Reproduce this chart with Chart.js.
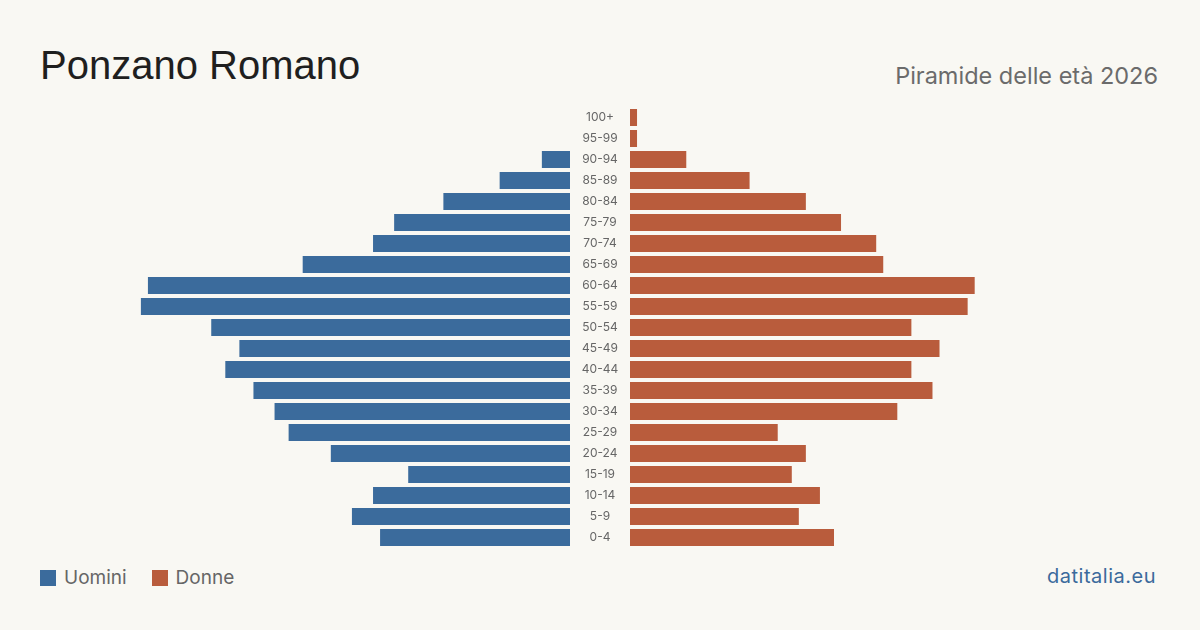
<!DOCTYPE html>
<html lang="it">
<head>
<meta charset="utf-8">
<title>Ponzano Romano – Piramide delle età 2026</title>
<script src="https://cdn.jsdelivr.net/npm/chart.js@4/dist/chart.umd.min.js"></script>
<style>
  html, body { margin: 0; padding: 0; }
  body {
    width: 1200px; height: 630px; overflow: hidden; position: relative;
    background: #f9f8f3;
    font-family: Inter, "Liberation Sans", Arial, sans-serif;
  }
  .title {
    position: absolute; left: 40px; top: 45px;
    font-family: "Liberation Sans", Arial, sans-serif;
    font-size: 40px; color: #1f1f1f; line-height: 1;
  }
  .subtitle {
    position: absolute; right: 42px; top: 64px;
    font-size: 23.5px; color: #6b6b6b; line-height: 1;
  }
  .box { position: absolute; top: 107px; height: 441px; }
  #boxMen   { left: 60px;  width: 570px; }
  #boxWomen { left: 630px; width: 510px; }
  .legend {
    position: absolute; left: 40px; top: 566px;
    display: flex; align-items: center; font-size: 19px; color: #666;
  }
  .legend span.sw { width: 16px; height: 16px; display: inline-block; margin-right: 8px; }
  .legend .item { display: flex; align-items: center; margin-right: 25px; }
  .source {
    position: absolute; right: 44px; top: 564px;
    font-size: 20px; letter-spacing: 0.5px; color: #3b6a9c;
  }
</style>
</head>
<body>
  <div class="title">Ponzano Romano</div>
  <div class="subtitle">Piramide delle età 2026</div>

  <div class="box" id="boxMen"><canvas id="chartMen"></canvas></div>
  <div class="box" id="boxWomen"><canvas id="chartWomen"></canvas></div>

  <div class="legend">
    <div class="item"><span class="sw" style="background:#3b6b9c"></span>Uomini</div>
    <div class="item"><span class="sw" style="background:#b95c3c"></span>Donne</div>
  </div>
  <div class="source">datitalia.eu</div>

<script>
// ── Data ─────────────────────────────────────────────────────────────────────
const ageGroups = ['100+', '95-99', '90-94', '85-89', '80-84', '75-79', '70-74',
                   '65-69', '60-64', '55-59', '50-54', '45-49', '40-44', '35-39',
                   '30-34', '25-29', '20-24', '15-19', '10-14', '5-9', '0-4'];
const menValues   = [0, 0, 4, 10, 18, 25, 28, 38, 60, 61, 51, 47, 49, 45, 42, 40, 34, 23, 28, 31, 27];
const womenValues = [1, 1, 8, 17, 25, 30, 35, 36, 49, 48, 40, 44, 40, 43, 38, 21, 25, 23, 27, 24, 29];

const MEN_COLOR   = '#3b6b9c';
const WOMEN_COLOR = '#b95c3c';
const AXIS_MAX    = 72.5;
const LABEL_GAP   = 60;   // centre column holding the age labels

// Age labels drawn in the gap right of the men's plot, at the y-scale positions
const ageLabelPlugin = {
    id: 'ageLabels',
    afterDraw(chart) {
        const { ctx, chartArea, scales } = chart;
        ctx.save();
        ctx.fillStyle = '#666';
        ctx.font = '12px Inter, "Liberation Sans", sans-serif';
        ctx.textAlign = 'center';
        ctx.textBaseline = 'middle';
        chart.data.labels.forEach((lab, i) => {
            ctx.fillText(lab, chartArea.right + LABEL_GAP / 2, scales.y.getPixelForValue(i));
        });
        ctx.restore();
    },
};

// ── One side of the pyramid ──────────────────────────────────────────────────
function makeSide(canvasId, values, color, isLeft) {
    return new Chart(document.getElementById(canvasId), {
        type: 'bar',
        data: {
            labels: ageGroups,
            datasets: [{
                data: values,
                backgroundColor: color,
                borderWidth: 0,
                barPercentage: 0.81,
                categoryPercentage: 1,
            }],
        },
        plugins: isLeft ? [ageLabelPlugin] : [],
        options: {
            indexAxis: 'y',
            responsive: true,
            maintainAspectRatio: false,
            animation: false,
            layout: { padding: { left: 0, right: isLeft ? LABEL_GAP : 0, top: 0, bottom: 0 } },
            plugins: { legend: { display: false }, tooltip: { enabled: false } },
            scales: {
                x: { display: false, min: 0, max: AXIS_MAX, reverse: isLeft },
                y: { display: false },
            },
        },
    });
}

makeSide('chartMen', menValues, MEN_COLOR, true);
makeSide('chartWomen', womenValues, WOMEN_COLOR, false);
</script>
</body>
</html>
